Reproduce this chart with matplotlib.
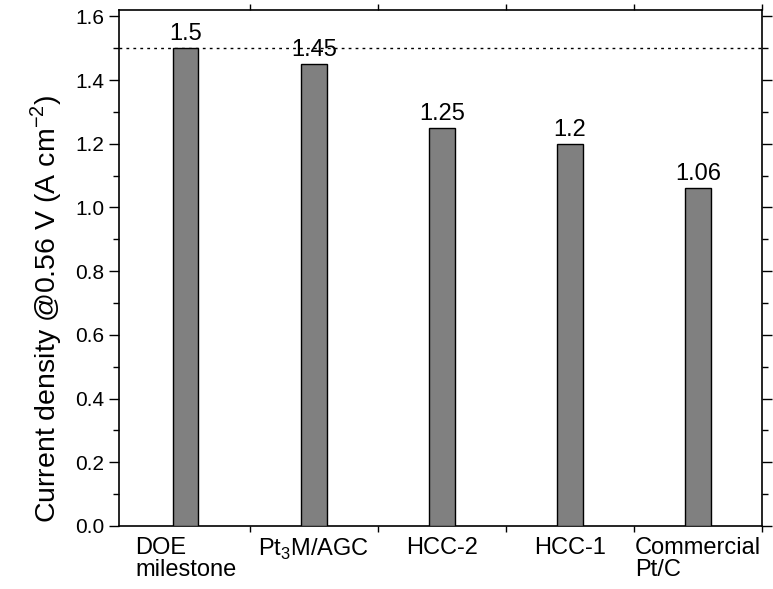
import matplotlib
matplotlib.use('Agg')
import matplotlib.pyplot as plt
import matplotlib.transforms as mtransforms
import numpy as np

plt.rcParams['font.family'] = ['Liberation Sans', 'DejaVu Sans']
plt.rcParams['mathtext.fontset'] = 'custom'
plt.rcParams['mathtext.rm'] = 'Liberation Sans'

# Data
catalysts = ['DOE\nmilestone', 'Pt$_3$M/AGC', 'HCC-2', 'HCC-1', 'Commercial\nPt/C']
current_density = [1.5, 1.45, 1.25, 1.2, 1.06]
value_labels = ['1.5', '1.45', '1.25', '1.2', '1.06']
doe_target = 1.5

fig, ax = plt.subplots(figsize=(7.73, 5.89), dpi=100)
fig.subplots_adjust(left=0.154, right=0.986, bottom=0.107, top=0.983)

x = np.arange(1, len(catalysts) + 1)
ax.bar(x, current_density, width=0.2, color='#808080', edgecolor='black', linewidth=1, zorder=3)
ax.axhline(doe_target, color='black', linestyle=(0, (2, 3)), linewidth=1, zorder=2)

for xi, v, lab in zip(x, current_density, value_labels):
    ax.text(xi, v + 0.01, lab, ha='center', va='bottom', fontsize=17)

ax.set_xlim(0.48, 5.5)
ax.set_ylim(0, 1.62)
ax.set_yticks(np.arange(0, 1.61, 0.2))
ax.set_yticklabels([f'{t:.1f}' for t in np.arange(0, 1.61, 0.2)])
ax.set_yticks(np.arange(0.1, 1.61, 0.2), minor=True)
ax.set_xticks(x)
ax.set_xticks(x + 0.5, minor=True)
ax.set_xticklabels(catalysts, fontsize=17, multialignment='left', linespacing=1.0)

# shift the Pt3M label a little left, like the original text box
offsets = [0, -10, 0, 0, 0]
for lab, dx in zip(ax.get_xticklabels(), offsets):
    lab.set_transform(lab.get_transform() + mtransforms.ScaledTranslation(dx / 72, 0, fig.dpi_scale_trans))

ax.tick_params(axis='both', which='both', direction='out', top=True, right=True, width=1)
ax.tick_params(axis='y', which='major', length=7, labelsize=15)
ax.tick_params(axis='x', which='major', length=0, pad=8)
ax.tick_params(axis='both', which='minor', length=4)
for s in ax.spines.values():
    s.set_linewidth(1.2)

ax.set_ylabel('Current density @0.56 V (A cm$^{-2}$)', fontsize=20.5)
ax.yaxis.set_label_coords(-0.085, 0.42)

plt.savefig('out.png', dpi=100, facecolor='white')
plt.close()
